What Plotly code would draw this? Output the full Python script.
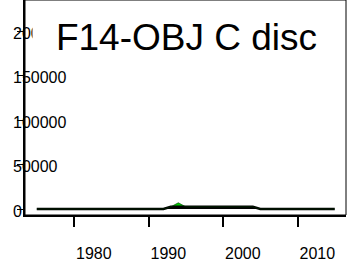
import plotly.graph_objects as go

years = list(range(1975, 2016))
black_vals = [0]*18 + [2500]*12 + [0]*11   # 1975-1992 zero, 1993-2004 ~2500, 2005-2015 zero
green_vals = [0]*19 + [4500] + [0]*21      # bump at 1994
ytick_vals = [0, 50000, 100000, 150000, 200000]
ytick_text = ["0", "50000", "100000", "150000", "200000"]
xtick_vals = [1980, 1990, 2000, 2010]
xtick_text = ["1980", "1990", "2000", "2010"]
title_text = "F14-OBJ C disc"

FONT = "Liberation Sans, Arial, sans-serif"

fig = go.Figure()
fig.add_trace(go.Scatter(x=years, y=black_vals, stackgroup="a", mode="lines",
                         line=dict(color="black", width=2.5), fillcolor="black",
                         hoverinfo="skip"))
fig.add_trace(go.Scatter(x=years, y=green_vals, stackgroup="a", mode="lines",
                         line=dict(color="#003300", width=0.6), fillcolor="#00cc00",
                         hoverinfo="skip"))

annotations = []
for v, t in zip(ytick_vals, ytick_text):
    annotations.append(dict(x=0, xref="paper", y=v, yref="y", text=t, showarrow=False,
                            xanchor="left", yanchor="middle", xshift=-14, yshift=-2,
                            font=dict(family=FONT, size=16, color="black")))
annotations.append(dict(x=0.503, xref="paper", y=0.826, yref="paper", text=title_text,
                        showarrow=False, xanchor="center", yanchor="middle",
                        width=307, align="center", bgcolor="white", borderpad=0,
                        font=dict(family=FONT, size=37, color="black")))

fig.update_layout(
    width=347, height=267,
    margin=dict(l=25, r=1, t=0, b=52),
    paper_bgcolor="white", plot_bgcolor="white",
    showlegend=False,
    annotations=annotations,
    shapes=[dict(type="rect", xref="paper", yref="paper", x0=0, y0=0, x1=1, y1=1,
                 line=dict(color="black", width=1), layer="above")],
    xaxis=dict(range=[1973.42, 2016.51], tickvals=xtick_vals, ticktext=xtick_text,
               ticks="outside", ticklen=10, tickwidth=2, tickcolor="black",
               showline=True, linecolor="black", linewidth=2, showgrid=False,
               zeroline=False, ticklabelposition="outside right", ticklabelstandoff=23,
               tickfont=dict(family=FONT, size=16, color="black")),
    yaxis=dict(range=[-6742, 234831], tickvals=ytick_vals, showticklabels=False,
               ticks="outside", ticklen=6, tickwidth=1, tickcolor="black",
               showline=True, linecolor="black", linewidth=2, showgrid=False,
               zeroline=False),
)

fig.write_html("out.html", config={"displayModeBar": False},
               post_script="document.body.style.margin='0';")
